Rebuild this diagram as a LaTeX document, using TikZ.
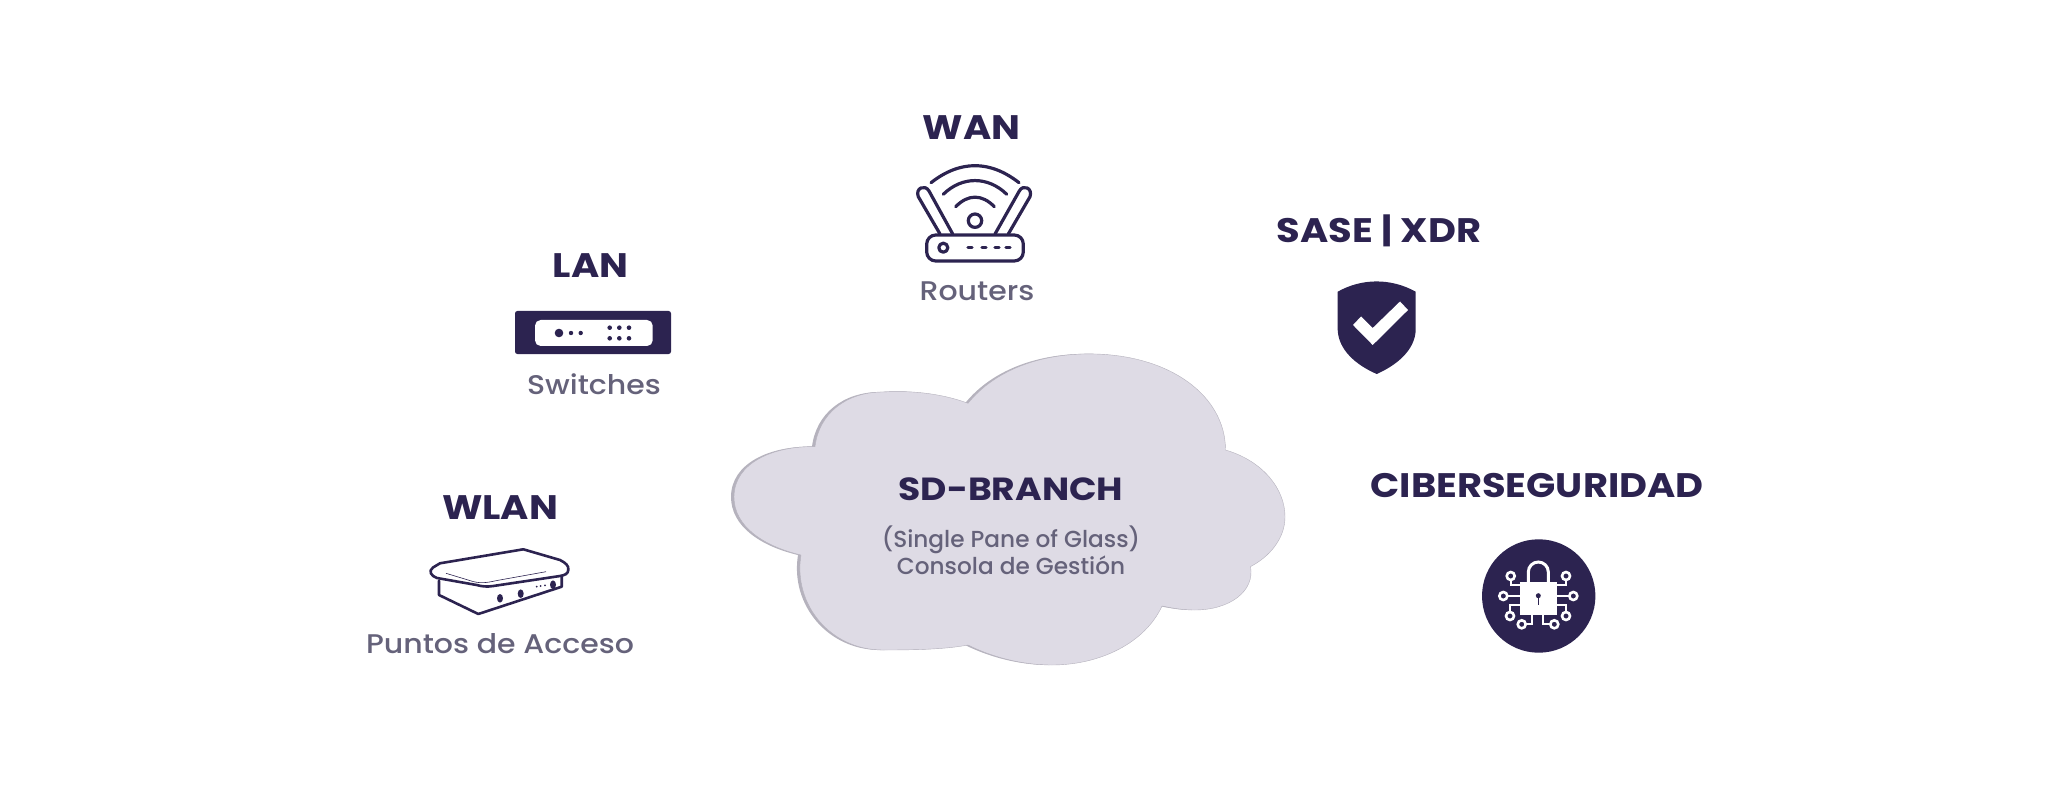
\documentclass[tikz,border=0pt]{standalone}
\usepackage{fontspec}
\setmainfont{Poppins}
\newfontfamily\titlefont[FakeStretch=1.13]{Poppins Bold}
\newfontfamily\subfont[FakeStretch=1.11]{Poppins Medium}
\newfontfamily\cloudfont{Poppins Medium}
\definecolor{darkpurple}{HTML}{2C2350}
\definecolor{greytext}{HTML}{65627A}
\definecolor{cloudfill}{HTML}{DEDBE5}
\definecolor{cloudedge}{HTML}{B5B2BD}
\newcommand{\cloudpath}{(965,403.3) .. controls (992,370) and (1037,353.9) .. (1086,353.9) .. controls (1167,353.9) and (1222.5,396) .. (1222.5,450) .. controls (1260,461) and (1282,489) .. (1282,516.8) .. controls (1282,539) and (1266,557) .. (1247.5,566.6) .. controls (1252,591) and (1227,610) .. (1191.6,610) .. controls (1179,610) and (1169,608) .. (1159,606) .. controls (1142,643) and (1097,665) .. (1049,665) .. controls (1017,665) and (987,656) .. (965,645) .. controls (942,649.4) and (912,650) .. (880,650) .. controls (827,650) and (790,604) .. (798,555) .. controls (760,546) and (731,526) .. (731,497) .. controls (731,463) and (770,446) .. (812,446.6) .. controls (816,413.7) and (843,392) .. (880,392) .. controls (912,390) and (942,394.6) .. (965,403.3) -- cycle}
\tikzset{
	titletext/.style = {anchor = base, text = darkpurple, font = \fontsize{17}{20}\titlefont},
	subtext/.style = {anchor = base, text = greytext, font = \fontsize{13.5}{16}\subfont},
	cloudtext/.style = {anchor = base, text = greytext, font = \fontsize{11.6}{14}\cloudfont},
	iconline/.style = {draw = darkpurple, line width = 1.6pt, line cap = round, line join = round},
	wireline/.style = {draw = white, line width = 1.1pt}
}
\begin{document}
\begin{tikzpicture}[x = 0.5pt, y = -0.5pt]
	\useasboundingbox (0, 0) rectangle (2048, 796);
	% cloud
	\fill[cloudedge] \cloudpath;
	\begin{scope}[shift = {(3, 0)}]
		\fill[cloudfill, draw = cloudedge, line width = 0.2pt] \cloudpath;
	\end{scope}
	\node[titletext, font = \fontsize{16}{20}\titlefont] (sdbranch) at (1011, 500) {SD-BRANCH};
	\node[cloudtext] (singlepane) at (1011, 547) {(Single Pane of Glass)};
	\node[cloudtext] (consola) at (1011, 574) {Consola de Gestión};
	% WAN
	\node[titletext] (wan) at (971.5, 140) {WAN};
	\node[subtext] (routers) at (977, 301) {Routers};
	\draw[iconline] (931, 182.7) .. controls (960, 160) and (990, 160) .. (1019, 182.7);
	\draw[iconline] (943.3, 194.3) .. controls (962, 176) and (988, 176) .. (1006.7, 194.3);
	\draw[iconline] (955.7, 206.7) .. controls (968, 194) and (982, 194) .. (994.3, 206.7);
	\draw[iconline] (975, 220.7) circle (6.7);
	\draw[iconline, rounded corners = 4.5pt] (926.7, 235) rectangle (1023.3, 261);
	\draw[iconline] (943.3, 247.7) circle (4.5);
	\foreach \x in {968, 982, 995, 1006} \draw[iconline] (\x, 247.7) -- ++(4, 0);
	\draw[iconline] (940, 234) -- (918.3, 196.7) .. controls (915, 188) and (925, 184) .. (929, 191) -- (952.7, 234);
	\draw[iconline] (995, 234) -- (1019.3, 191) .. controls (1023, 184) and (1033, 188) .. (1030, 196.7) -- (1008.3, 234);
	% LAN
	\node[titletext] (lan) at (590.7, 278) {LAN};
	\node[subtext] (switches) at (594, 394) {Switches};
	\fill[darkpurple, rounded corners = 1.2pt] (515, 311) rectangle (671, 354);
	\fill[white, rounded corners = 2.8pt] (535, 320) rectangle (652.7, 346);
	\fill[darkpurple] (559, 333) circle (4.3);
	\foreach \x in {571, 580.7} \fill[darkpurple] (\x, 333) circle (2.2);
	\foreach \x in {609.7, 619.3, 629} {
		\fill[darkpurple] (\x, 327.7) circle (2.3);
		\fill[darkpurple] (\x, 338.3) circle (2.3);
	}
	% WLAN
	\node[titletext] (wlan) at (500, 519) {WLAN};
	\node[subtext] (puntos) at (500, 653) {Puntos de Acceso};
	\draw[iconline, line width = 1.3pt] (440, 563.3) -- (523.3, 549.3) -- (560, 560) .. controls (566, 563) and (569, 566) .. (568.3, 570) .. controls (568, 574) and (565, 575) .. (560, 576) -- (493.3, 586) .. controls (487, 587) and (482, 586.5) .. (476.7, 585) -- (437, 578) .. controls (431, 576) and (428, 571) .. (433, 567.5) -- cycle;
	\draw[iconline, line width = 1.3pt] (439, 580.7) -- (439, 595) -- (478.3, 614) -- (561.7, 586.7) -- (561.7, 576);
	\draw[darkpurple, line width = 0.3pt] (446, 573.3) -- (473, 581.5) .. controls (482, 584) and (490, 582) .. (497, 580.5) -- (546, 571.7);
	\fill[darkpurple] (500, 598.3) ellipse (3 and 4.3);
	\fill[darkpurple] (520.7, 593.7) ellipse (3 and 4.3);
	\fill[darkpurple] (553, 584.7) ellipse (3 and 4.3);
	\foreach \x/\y in {536.7/586.7, 540.7/586, 545/585.3} \fill[darkpurple] (\x, \y) circle (1);
	% SASE | XDR
	\node[titletext] (sase) at (1379, 243) {SASE | XDR};
	\fill[darkpurple] (1337.7, 291.7) .. controls (1362, 278) and (1391, 278) .. (1415.7, 291.7) -- (1415.7, 330) .. controls (1415, 350) and (1397, 365) .. (1376.7, 374) .. controls (1356, 365) and (1338.5, 350) .. (1337.7, 330) -- cycle;
	\fill[white] (1353, 325) -- (1361, 316.5) -- (1372.7, 328) -- (1400, 301.5) -- (1408, 310) -- (1372.7, 345) -- cycle;
	% CIBERSEGURIDAD
	\node[titletext] (ciber) at (1537, 497) {CIBERSEGURIDAD};
	\fill[darkpurple] (1538.7, 596) circle (56.7);
	\draw[wireline, line width = 1.5pt] (1528.3, 583) -- (1528.3, 572) arc (180:360:10) -- (1548.3, 583);
	\fill[white] (1520, 581.7) rectangle (1556.7, 615);
	\fill[darkpurple] (1538.3, 595.7) circle (2.5);
	\draw[darkpurple, line width = 0.7pt] (1538.3, 595.7) -- (1538.3, 605);
	\foreach \x/\y in {1510.7/576, 1503.3/596, 1510/616, 1521.7/624.3, 1554.3/624.3, 1566/616, 1573.3/596, 1566/576}
		\draw[wireline, line width = 1.3pt] (\x, \y) circle (4);
	\draw[wireline] (1510.7, 580) -- (1510.7, 585) -- (1520, 585);
	\draw[wireline] (1507.3, 596) -- (1520, 596);
	\draw[wireline] (1510, 612) -- (1510, 605) -- (1520, 605);
	\draw[wireline] (1525.7, 624.3) -- (1531.7, 624.3) -- (1531.7, 615);
	\draw[wireline] (1550.3, 624.3) -- (1543.3, 624.3) -- (1543.3, 615);
	\draw[wireline] (1566, 612) -- (1566, 605) -- (1556.7, 605);
	\draw[wireline] (1569.3, 596) -- (1556.7, 596);
	\draw[wireline] (1566, 580) -- (1566, 585) -- (1556.7, 585);
\end{tikzpicture}
\end{document}
